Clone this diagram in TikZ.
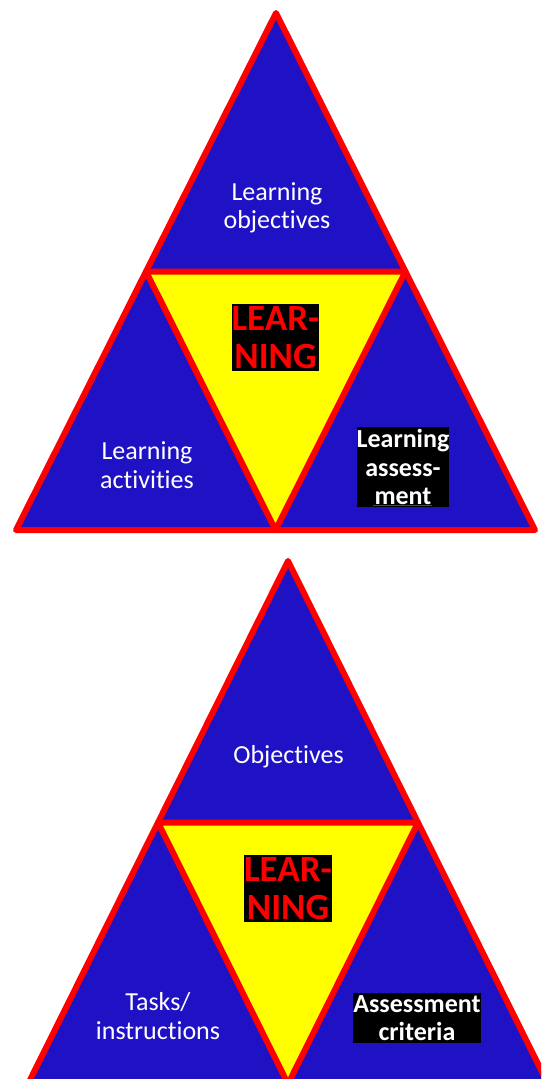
\documentclass[tikz,border=0pt]{standalone}
\usepackage{fontspec}
\setmainfont{Carlito}[RawFeature={-liga}]
\usetikzlibrary{calc}

\definecolor{triblue}{RGB}{31,17,196}
\definecolor{trired}{RGB}{255,0,0}
\definecolor{triyellow}{RGB}{255,255,0}

\tikzset{
  outertri/.style={fill=triblue, draw=trired, line width=6pt, line join=round},
  innertri/.style={fill=triyellow, draw=trired, line width=6pt, line join=round},
  plainlabel/.style={text=white, font=\fontsize{26}{28.5}\selectfont, align=center, inner sep=0pt},
  corelabel/.style={fill=black, text=trired, font=\bfseries\fontsize{37}{38}\selectfont,
                    align=center, inner sep=0pt},
  boxlabel/.style={fill=black, text=white, font=\bfseries\fontsize{26}{28.5}\selectfont,
                   align=center, inner sep=0pt},
}

\begin{document}
\begin{tikzpicture}[x=1pt, y=-1pt]
  \useasboundingbox (0,0) rectangle (541,1079);
  \clip (0,0) rectangle (541,1079);

  % ---- upper pyramid ----
  \coordinate (a1) at (276,13);
  \coordinate (l1) at (16,530);
  \coordinate (r1) at (535,530);
  \coordinate (ml1) at ($(a1)!0.5!(l1)$);
  \coordinate (mr1) at ($(a1)!0.5!(r1)$);
  \coordinate (mb1) at ($(l1)!0.5!(r1)$);
  \draw[outertri] (a1) -- (l1) -- (r1) -- cycle;
  \draw[innertri] (ml1) -- (mr1) -- (mb1) -- cycle;

  \node[plainlabel] (obj1) at (277,208) {Learning\\objectives};
  \node[plainlabel] (act1) at (147,465) {Learning\\activities};
  \node[corelabel, minimum width=87pt, minimum height=67pt] (core1) at (275.5,337.5) {LEAR-\\NING};
  \node[boxlabel, minimum width=92pt, minimum height=80pt] (ass1) at (403,467) {Learning\\assess-\\ment};
  \coordinate (sq1) at (373,505.5);
  \coordinate (sq2) at (432,505.5);
  \draw[trired, line width=0.9pt] (sq1) -- (sq2);

  % ---- lower pyramid ----
  \coordinate (a2) at (288,561);
  \coordinate (l2) at (28,1084);
  \coordinate (r2) at (548,1084);
  \coordinate (ml2) at ($(a2)!0.5!(l2)$);
  \coordinate (mr2) at ($(a2)!0.5!(r2)$);
  \coordinate (mb2) at ($(l2)!0.5!(r2)$);
  \draw[outertri] (a2) -- (l2) -- (r2) -- cycle;
  \draw[innertri] (ml2) -- (mr2) -- (mb2) -- cycle;

  \node[plainlabel, anchor=base] (obj2) at (288.5,763) {Objectives};
  \node[plainlabel] (act2) at (158,1016) {Tasks/\\instructions};
  \node[corelabel, minimum width=88pt, minimum height=67pt] (core2) at (288,888.5) {LEAR-\\NING};
  \node[boxlabel, minimum width=128pt, minimum height=50pt] (ass2) at (417,1018) {Assessment\\criteria};
\end{tikzpicture}
\end{document}
